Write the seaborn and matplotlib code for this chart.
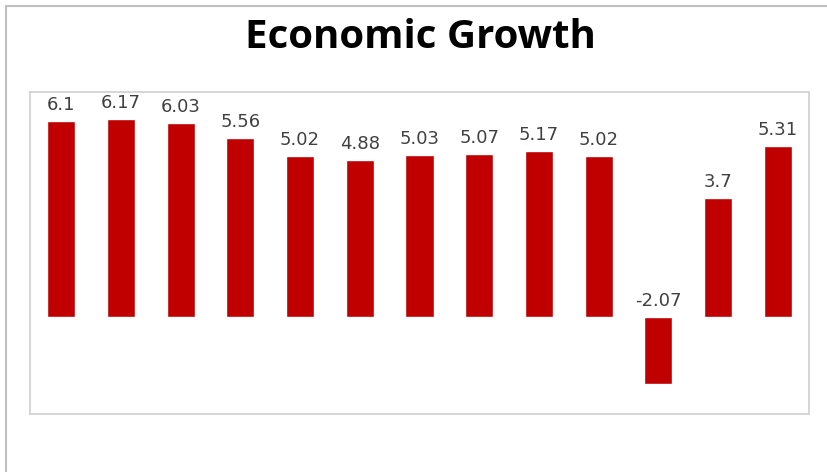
import matplotlib
matplotlib.use("Agg")
import matplotlib.pyplot as plt
import seaborn as sns
import pandas as pd
from matplotlib.lines import Line2D

categories = [str(i) for i in range(1, 14)]
values = [6.1, 6.17, 6.03, 5.56, 5.02, 4.88, 5.03, 5.07, 5.17, 5.02, -2.07, 3.7, 5.31]
labels = ["6.1", "6.17", "6.03", "5.56", "5.02", "4.88", "5.03", "5.07", "5.17", "5.02", "-2.07", "3.7", "5.31"]

sns.set_theme(style="white")
plt.rcParams['font.family'] = ['DejaVu Sans']

df = pd.DataFrame({"cat": categories, "val": values})

fig = plt.figure(figsize=(8.27, 4.72), dpi=100)
ax = fig.add_axes([30/827, 1-414/472, (809-30)/827, (414-92)/472])
sns.barplot(data=df, x="cat", y="val", color="#C00000", width=0.47, ax=ax, saturation=1)
ax.set_xlim(-0.52, 12.52)
ax.set_ylim(-3, 7)
ax.set_xticks([]); ax.set_yticks([])
ax.set_xlabel(""); ax.set_ylabel("")
for s in ax.spines.values():
    s.set_color("#D0D0D0"); s.set_linewidth(1.2)

for i, (v, t) in enumerate(zip(values, labels)):
    y = v if v > 0 else 0
    ax.annotate(t, (i, y), xytext=(0, 5), textcoords="offset points",
                ha="center", va="bottom", fontsize=13, color="#404040")

fig.text(420/827, 1-38/472, "Economic Growth", ha="center", va="center",
         fontsize=29, fontweight="bold", color="black", family=['Open Sans', 'DejaVu Sans'])

# outer border (left & top)
fig.add_artist(Line2D([6/827, 6/827], [0, 1-6/472], transform=fig.transFigure, color="#BFBFBF", lw=1.5))
fig.add_artist(Line2D([6/827, 1], [1-6/472, 1-6/472], transform=fig.transFigure, color="#BFBFBF", lw=1.5))

fig.savefig("out.png", dpi=100)
